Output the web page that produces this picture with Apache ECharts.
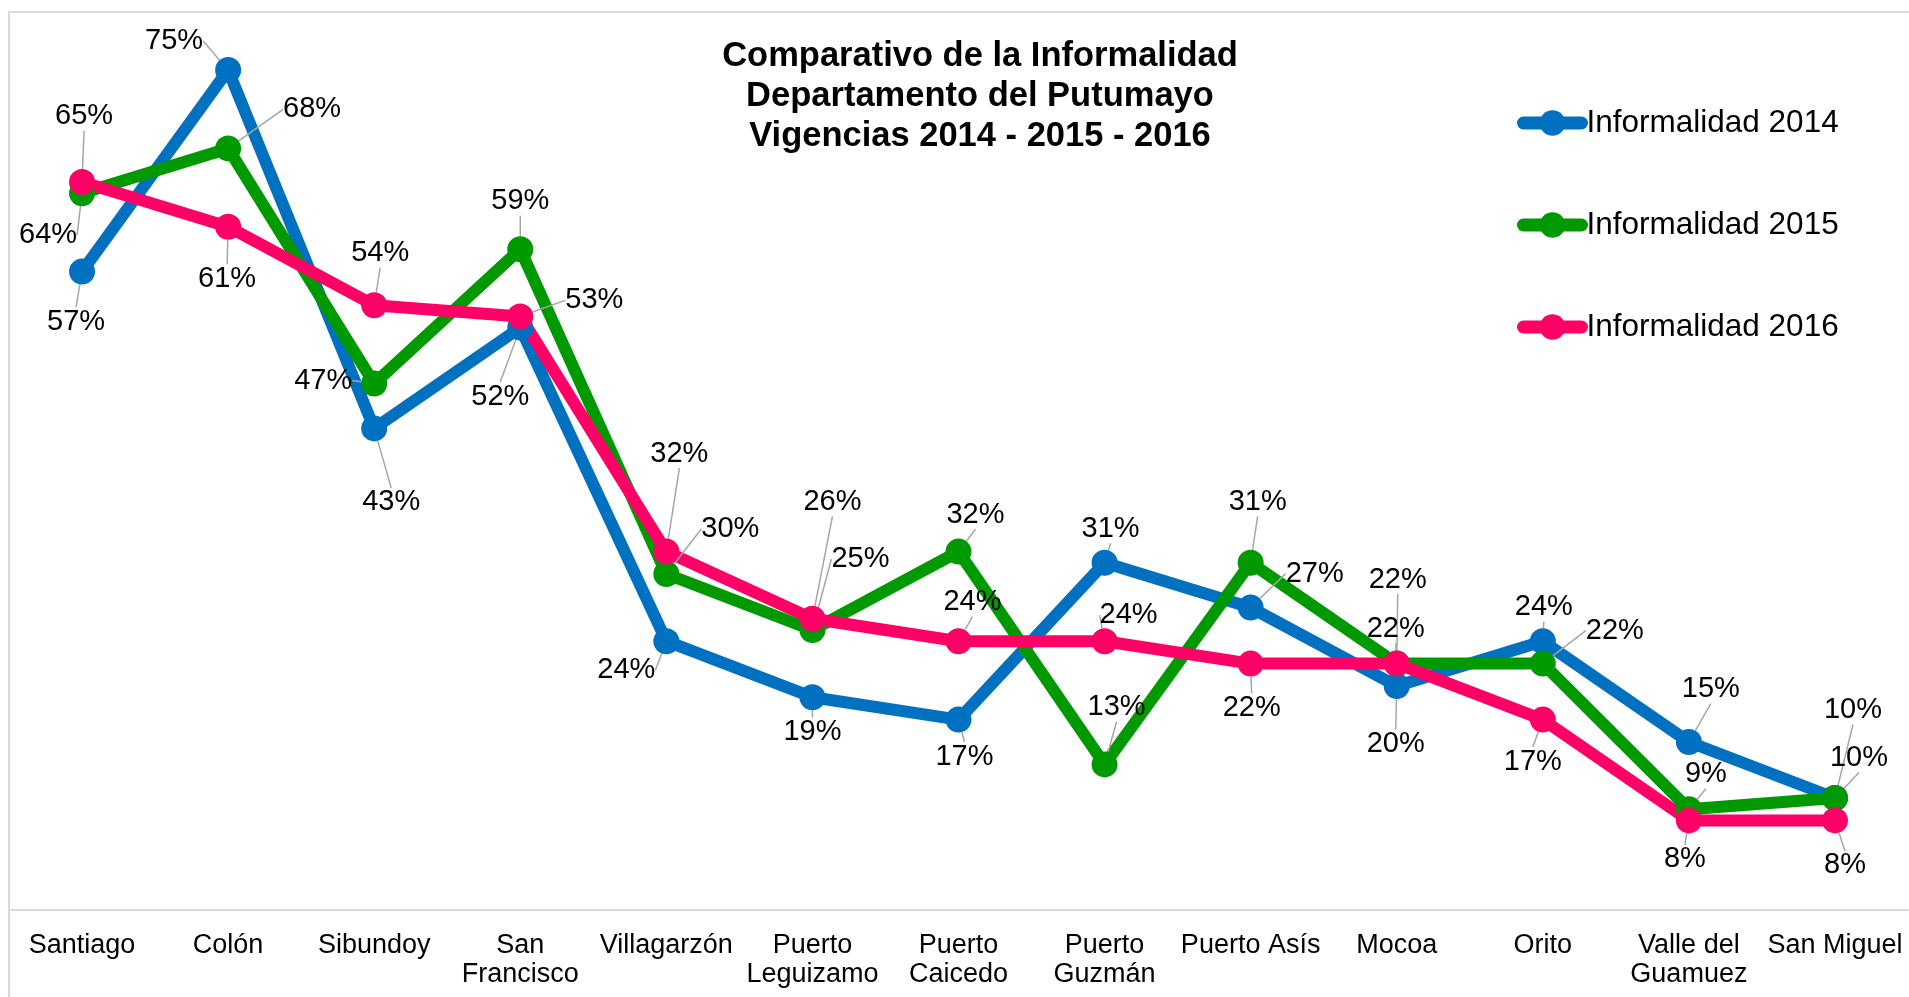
<!DOCTYPE html>
<html>
<head>
<meta charset="utf-8">
<title>Comparativo de la Informalidad</title>
<script src="https://cdn.jsdelivr.net/npm/echarts@6.0.0/dist/echarts.min.js"></script>
<style>
  html, body { margin: 0; padding: 0; background: #fff; }
  #main { width: 1909px; height: 997px; }
</style>
</head>
<body>
<div id="main"></div>
<script>
var municipios = ['Santiago', 'Colón', 'Sibundoy', 'San Francisco', 'Villagarzón', 'Puerto Leguizamo',
  'Puerto Caicedo', 'Puerto Guzmán', 'Puerto Asís', 'Mocoa', 'Orito', 'Valle del Guamuez', 'San Miguel'];
var inf2014 = [57, 75, 43, 52, 24, 19, 17, 31, 27, 20, 24, 15, 10];
var inf2015 = [64, 68, 47, 59, 30, 25, 32, 13, 31, 22, 22, 9, 10];
var inf2016 = [65, 61, 54, 53, 32, 26, 24, 24, 22, 22, 17, 8, 8];
var seriesNames = ['Informalidad 2014', 'Informalidad 2015', 'Informalidad 2016'];

// names that go on two lines under the axis (break at the last space)
var twoLineNames = ['San Francisco', 'Puerto Leguizamo', 'Puerto Caicedo', 'Puerto Guzmán', 'Valle del Guamuez'];

// where each data label sits, relative to its point (px)
var labelOffsets = [
  [[-6, 50], [-54, -29], [17, 74], [-20, 69], [-40, 29], [0, 35], [6, 37], [6, -34], [64, -34], [-1, 58], [1, -34], [22, -53], [18, -88]],
  [[-34, 42], [84, -39], [-51, -3], [0, -48], [64, -45], [48, -71], [17, -37], [12, -57], [7, -61], [1, -84], [72, -33], [17, -35], [24, -40]],
  [[2, -66], [-1, 52], [6, -52], [74, -16], [13, -98], [20, -117], [14, -39], [24, -26], [1, 44], [-1, -35], [-10, 42], [-4, 39], [10, 45]]
];
var colors = ['#0070C0', '#009900', '#FF0066'];
var font = "'Liberation Sans', Arial, sans-serif";

var myChart = echarts.init(document.getElementById('main'));

function makeSeries(idx, values) {
  return {
    name: seriesNames[idx],
    type: 'line',
    data: values,
    symbol: 'circle',
    symbolSize: 26,
    color: colors[idx],
    lineStyle: { width: 12, color: colors[idx], cap: 'round', join: 'round' },
    itemStyle: { color: colors[idx], borderWidth: 0 },
    label: {
      show: true,
      formatter: '{c}%',
      fontSize: 29,
      fontFamily: font,
      color: '#000'
    },
    labelLine: {
      show: true,
      lineStyle: { color: '#a6a6a6', width: 1.5 }
    },
    labelLayout: function (params) {
      var off = labelOffsets[idx][params.dataIndex];
      var cx = params.rect.x + params.rect.width / 2;
      var cy = params.rect.y + params.rect.height / 2;
      return { x: cx + off[0], y: cy + off[1], align: 'center', verticalAlign: 'middle' };
    },
    emphasis: { disabled: true },
    animation: false
  };
}

var option = {
  backgroundColor: '#fff',
  animation: false,
  title: {
    text: 'Comparativo de la Informalidad\nDepartamento del Putumayo\nVigencias 2014 - 2015 - 2016',
    left: 975,
    top: 31,
    textAlign: 'center',
    textStyle: { fontSize: 34.5, fontWeight: 'bold', fontFamily: font, color: '#000', lineHeight: 40 }
  },
  legend: {
    orient: 'vertical',
    left: 1512,
    top: 102,
    itemWidth: 58,
    itemHeight: 32,
    itemGap: 70,
    data: seriesNames,
    lineStyle: { width: 13, cap: 'round' },
    textStyle: { fontSize: 31.5, fontFamily: font, color: '#000', lineHeight: 32 }
  },
  graphic: [{
    type: 'rect',
    shape: { x: 9, y: 12, width: 1920, height: 1000 },
    style: { fill: 'none', stroke: '#d9d9d9', lineWidth: 2 },
    silent: true
  }],
  grid: { left: 9, right: 1, top: 14, bottom: 87 },
  xAxis: {
    type: 'category',
    data: municipios,
    boundaryGap: true,
    axisLine: { show: true, lineStyle: { color: '#d9d9d9', width: 2 } },
    axisTick: { show: false },
    axisLabel: {
      interval: 0,
      margin: 21,
      fontSize: 27,
      fontFamily: font,
      color: '#000',
      lineHeight: 29,
      formatter: function (name) {
        if (twoLineNames.indexOf(name) < 0) return name;
        var i = name.lastIndexOf(' ');
        return name.slice(0, i) + '\n' + name.slice(i + 1);
      }
    }
  },
  yAxis: {
    type: 'value',
    min: 0,
    max: 80,
    show: false
  },
  series: [makeSeries(0, inf2014), makeSeries(1, inf2015), makeSeries(2, inf2016)]
};

myChart.setOption(option);
</script>
</body>
</html>
